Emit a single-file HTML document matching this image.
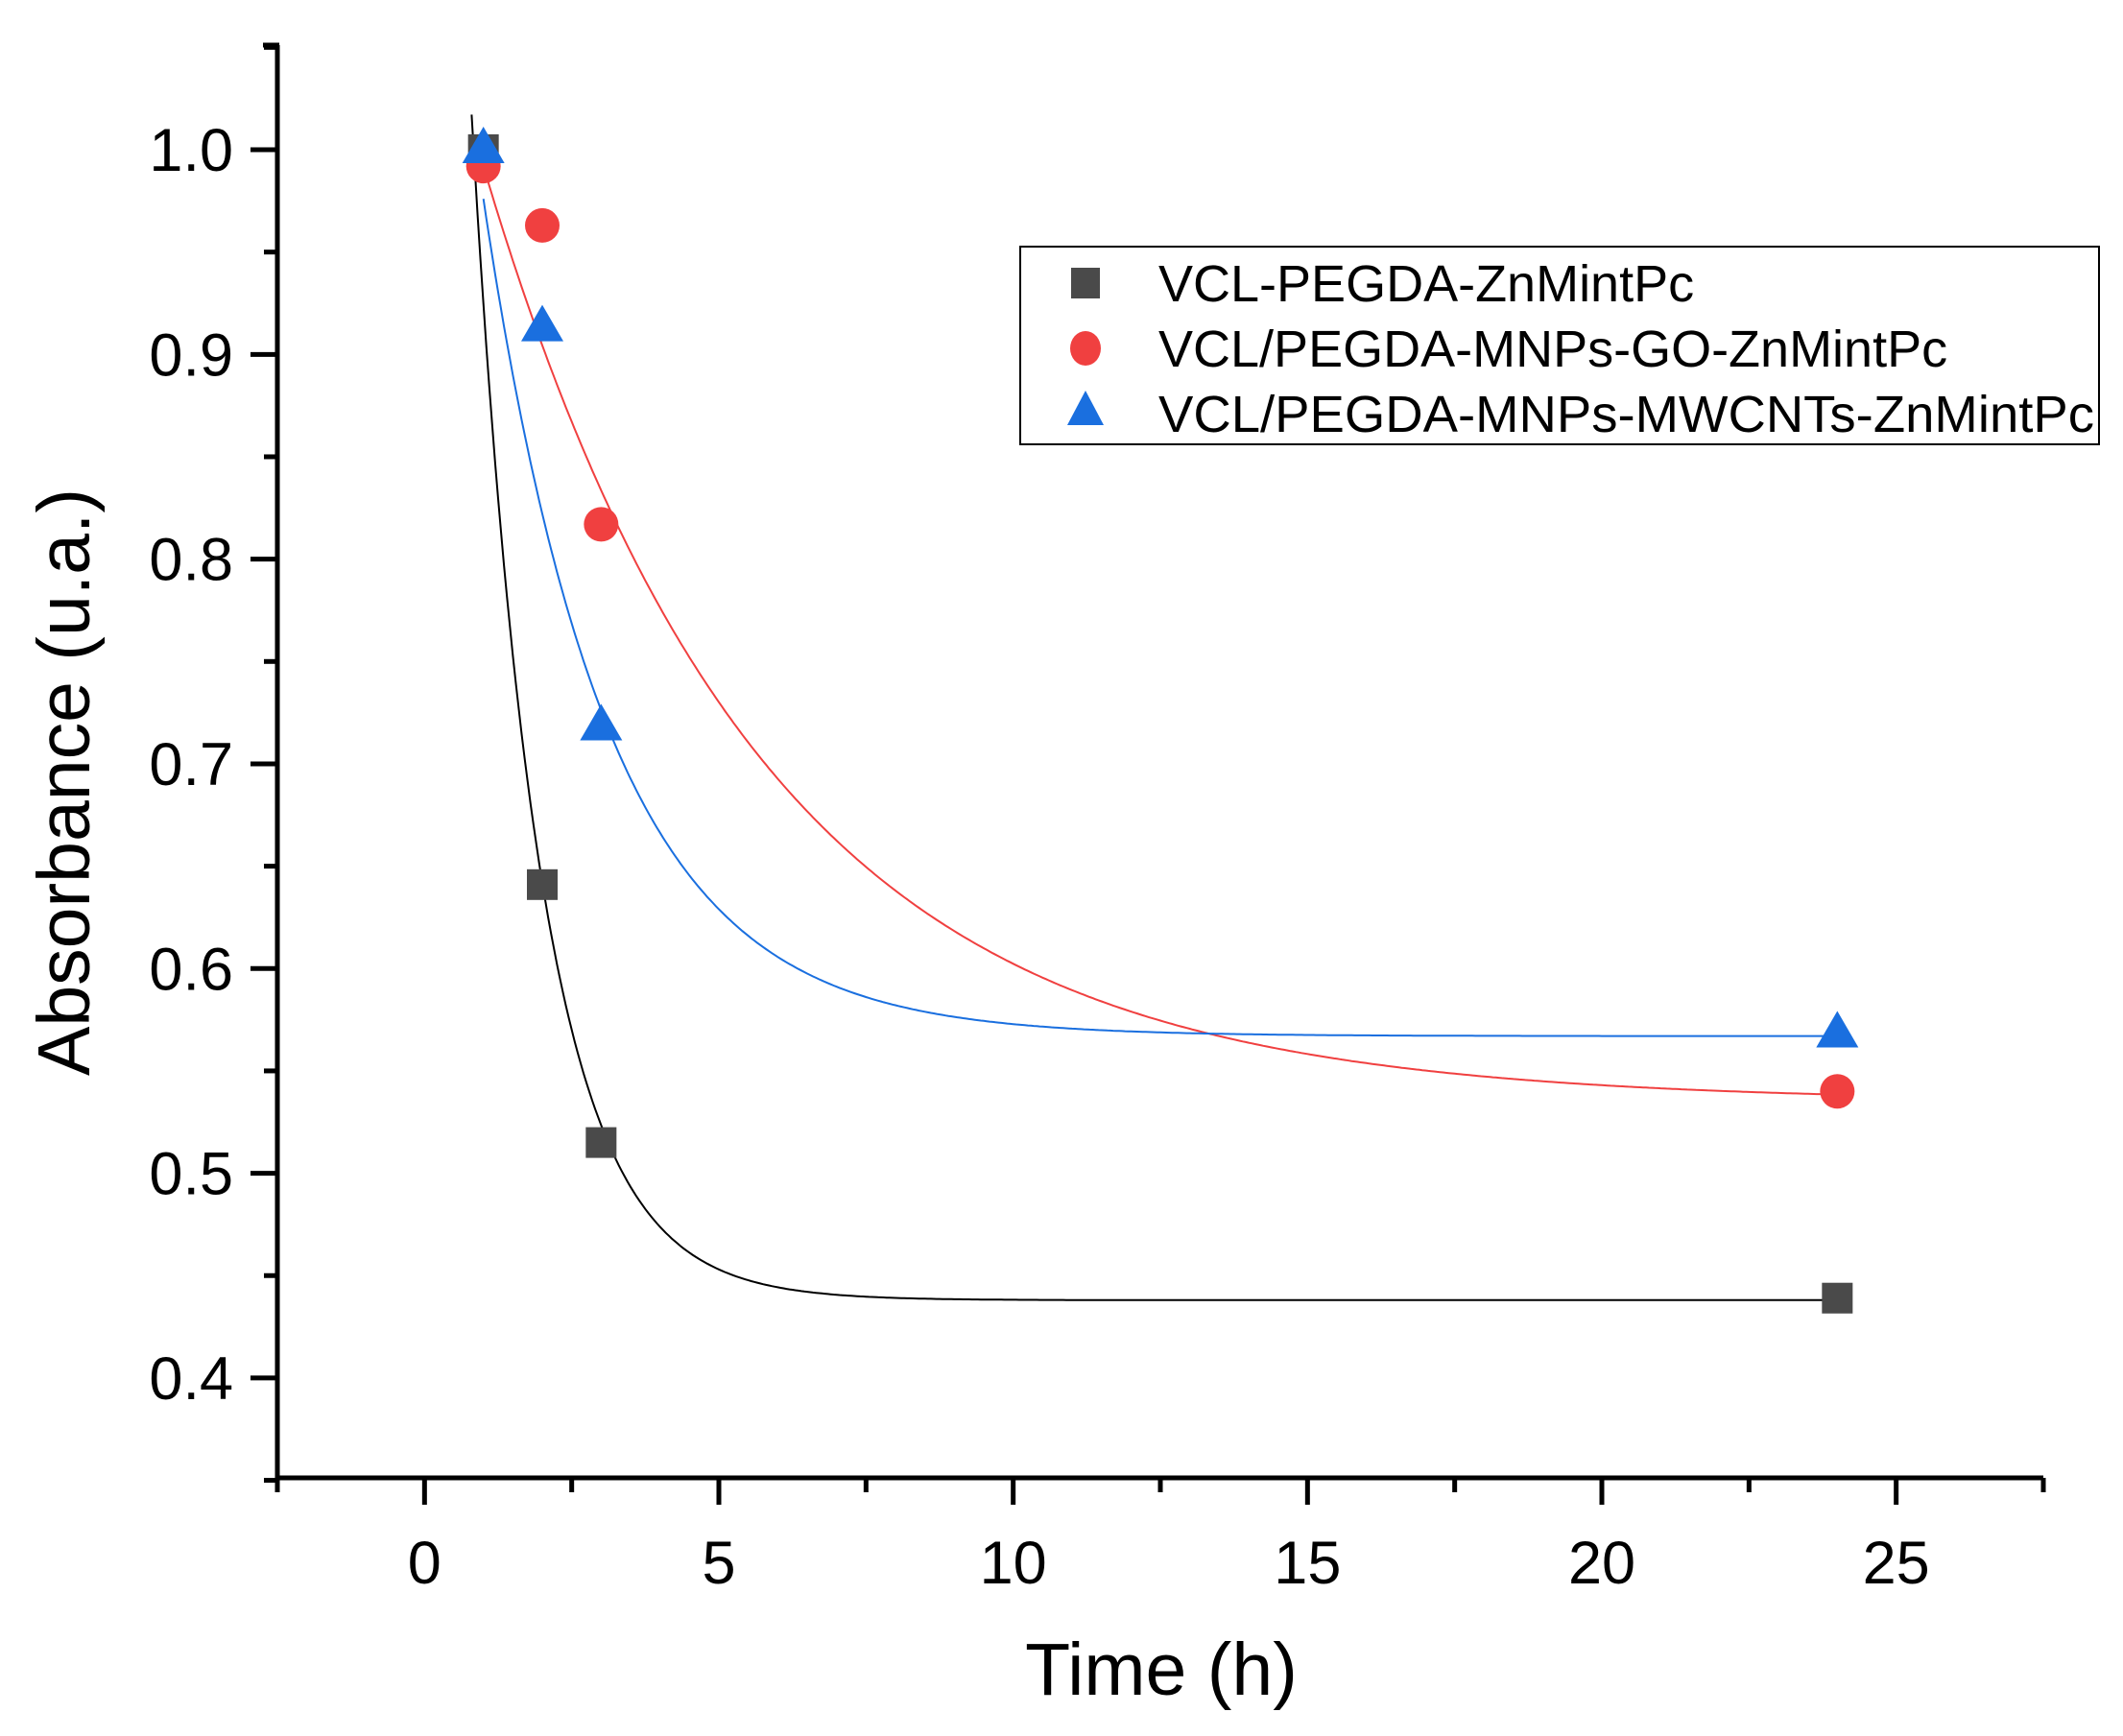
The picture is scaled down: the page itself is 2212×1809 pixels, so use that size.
<!DOCTYPE html>
<html><head><meta charset="utf-8"><style>
html,body{margin:0;padding:0;background:#fff;}
svg text{font-family:"Liberation Sans",Arial,sans-serif;}
</style></head><body>
<svg id="chart" width="2212" height="1804" viewBox="0 0 2212 1804" xmlns="http://www.w3.org/2000/svg">
<rect width="2212" height="1804" fill="#fff"/>
<g id="plot"></g>
<text x="0" y="0" font-size="77" text-anchor="middle" transform="translate(93,815) rotate(-90)">Absorbance (u.a.)</text>
<text x="1210" y="1766" font-size="77" text-anchor="middle">Time (h)</text>
<g>
<rect x="1063" y="257" width="1124" height="206" fill="#fff" stroke="#000" stroke-width="2"/>
<rect x="1116" y="279" width="30" height="32" fill="#4a4a4a"/>
<text x="1207" y="314" font-size="54">VCL-PEGDA-ZnMintPc</text>
<ellipse cx="1131" cy="363" rx="16" ry="18" fill="#f04040"/>
<text x="1207" y="382" font-size="54">VCL/PEGDA-MNPs-GO-ZnMintPc</text>
<polygon points="1131,407 1112,443 1150,443" fill="#1a6fdf"/>
<text x="1207" y="450" font-size="54" textLength="975" lengthAdjust="spacingAndGlyphs">VCL/PEGDA-MNPs-MWCNTs-ZnMintPc</text>
</g>
</svg>
<script>
const timesH = [1, 2, 3, 24];
const blackValues = [1.0, 0.641, 0.515, 0.439];
const redValues = [0.992, 0.963, 0.817, 0.540];
const blueValues = [1.0, 0.913, 0.718, 0.568];
// exponential-decay fit parameters: asymptote, amplitude at x0, x0, time constant, start x
const blackFit = [0.438, 0.204, 2, 1.15, 0.8];
const redFit = [0.535, 0.457, 1, 4.7, 1.0];
const blueFit = [0.567, 0.409, 1, 2.12, 1.0];
const xTicks = [0, 5, 10, 15, 20, 25];
const yTicks = [0.4, 0.5, 0.6, 0.7, 0.8, 0.9, 1.0];
const xTickLabels = ["0", "5", "10", "15", "20", "25"];
const yTickLabels = ["0.4", "0.5", "0.6", "0.7", "0.8", "0.9", "1.0"];

const NS = "http://www.w3.org/2000/svg";
const X0 = -2.5, X1 = 27.5, PX0 = 289, PX1 = 2129;
const Y0 = 0.3512, Y1 = 1.0511, PY0 = 1540, PY1 = 47;
const sx = v => PX0 + (v - X0) / (X1 - X0) * (PX1 - PX0);
const sy = v => PY0 - (v - Y0) / (Y1 - Y0) * (PY0 - PY1);
const g = document.getElementById('plot');
function mk(tag, attrs) { const e = document.createElementNS(NS, tag); for (const k in attrs) e.setAttribute(k, attrs[k]); g.appendChild(e); return e; }

let ax = mk('line', {x1: PX0, y1: PY0, x2: PX0, y2: PY1, stroke: '#000', 'stroke-width': 5});


ax = mk('line', {x1: PX0 - 2, y1: PY0, x2: PX1, y2: PY0, stroke: '#000', 'stroke-width': 5});


ax = mk('line', {x1: PX0 - 15, y1: PY1, x2: PX0 + 2, y2: PY1, stroke: '#000', 'stroke-width': 5});



for (let v = 0.35; v <= 1.051; v += 0.05) {
  const major = yTicks.some(t => Math.abs(t - v) < 1e-6);
  const t = mk('line', {x1: PX0 - (major ? 28 : 14), y1: sy(v), x2: PX0, y2: sy(v), stroke: '#000', 'stroke-width': 5});
  
  
}
yTicks.forEach((v, i) => {
  const t = mk('text', {x: 243, y: sy(v) + 22, 'font-size': 63, 'text-anchor': 'end'});
  t.textContent = yTickLabels[i];
  
  
});
for (let v = -2.5; v <= 27.6; v += 2.5) {
  const major = xTicks.some(t => Math.abs(t - v) < 1e-6);
  const t = mk('line', {x1: sx(v), y1: PY0, x2: sx(v), y2: PY0 + (major ? 28 : 15), stroke: '#000', 'stroke-width': 5});
  
  
}
xTicks.forEach((v, i) => {
  const t = mk('text', {x: sx(v), y: 1650, 'font-size': 63, 'text-anchor': 'middle'});
  t.textContent = xTickLabels[i];
  
  
});

function curve(fit, color, name) {
  const [a, A, x0, tau, xs] = fit;
  let d = '';
  for (let x = xs; x <= 24.0001; x += 0.05) {
    const y = a + A * Math.exp(-(x - x0) / tau);
    d += (d ? 'L' : 'M') + sx(x).toFixed(1) + ',' + sy(y).toFixed(1);
  }
  const p = mk('path', {d: d, fill: 'none', stroke: color, 'stroke-width': 2});
  
  
}
curve(blackFit, '#000', 'fit-curve-vcl-pegda');
curve(redFit, '#f04040', 'fit-curve-go');
curve(blueFit, '#1a6fdf', 'fit-curve-mwcnts');

timesH.forEach((x, i) => {
  const s = mk('rect', {x: sx(x) - 16, y: sy(blackValues[i]) - 16, width: 32, height: 32, fill: '#4a4a4a'});
  
  
});
timesH.forEach((x, i) => {
  const c = mk('circle', {cx: sx(x), cy: sy(redValues[i]), r: 18, fill: '#f04040'});
  
  
});
timesH.forEach((x, i) => {
  const cx = sx(x), cy = sy(blueValues[i]);
  const t = mk('polygon', {points: `${cx},${cy - 24} ${cx - 22},${cy + 14} ${cx + 22},${cy + 14}`, fill: '#1a6fdf'});
  
  
});
</script>
</body></html>
